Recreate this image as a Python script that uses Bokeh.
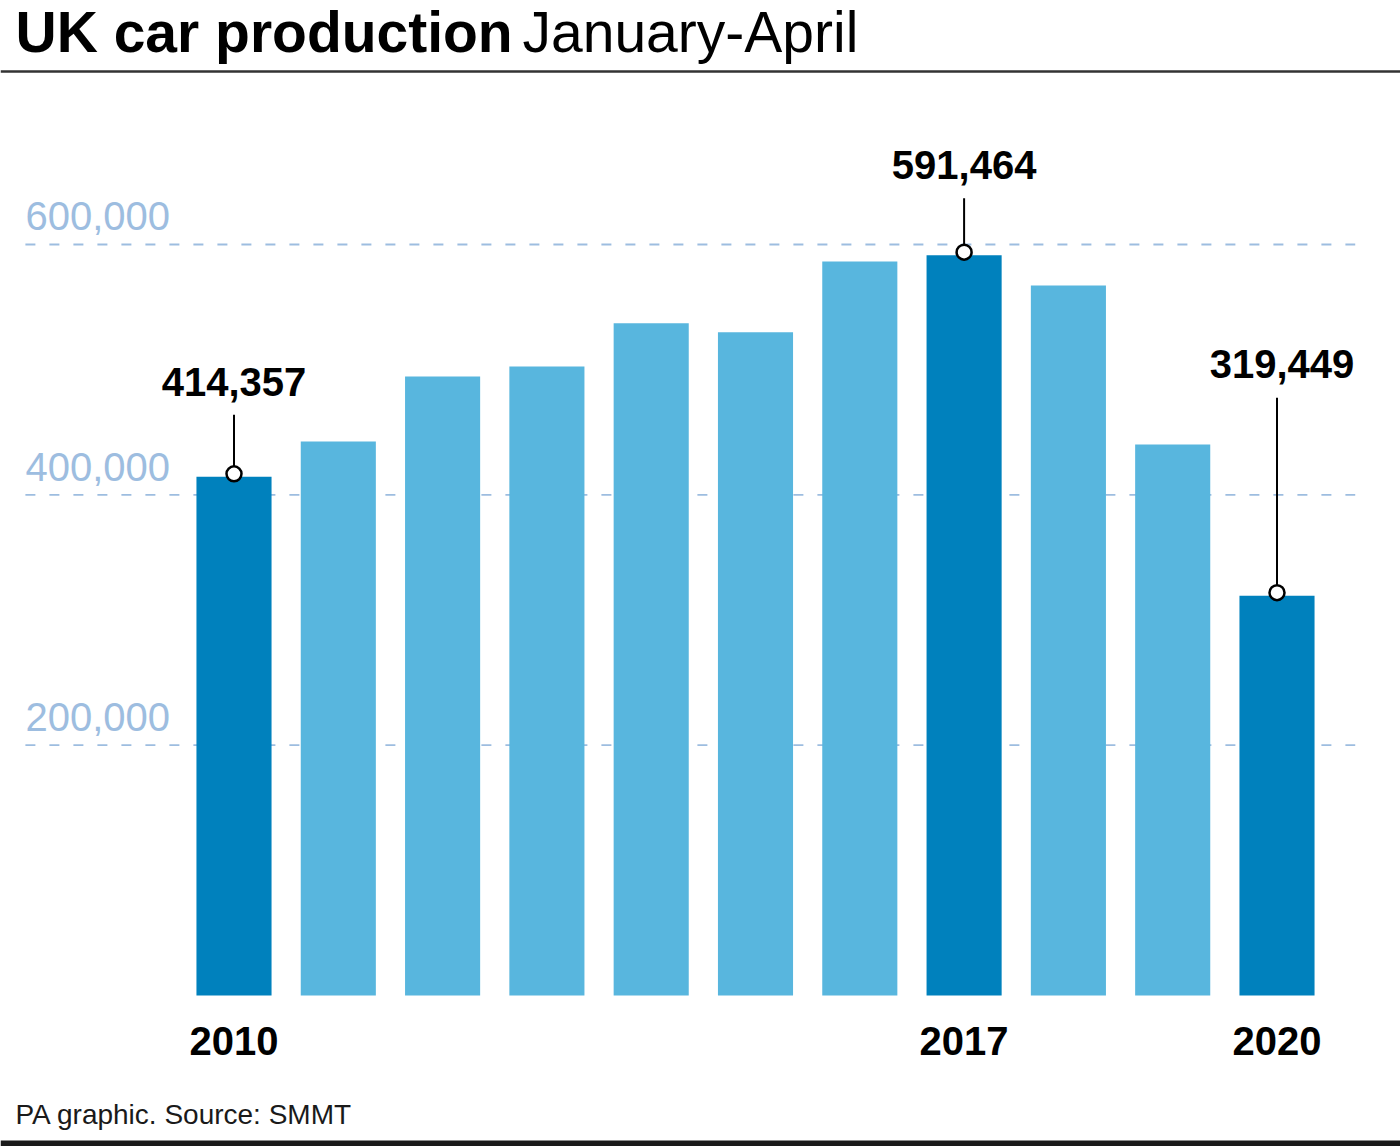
from bokeh.plotting import figure
from bokeh.models import Range1d, ColumnDataSource
from bokeh.core.properties import value
from bokeh.embed import file_html
from bokeh.resources import INLINE

# ---------------- data ----------------
years = [2010, 2011, 2012, 2013, 2014, 2015, 2016, 2017, 2018, 2019, 2020]
production = [414357, 442700, 494600, 502600, 537000, 529800, 586500, 591464, 567300, 440300, 319449]
highlight_years = [2010, 2017, 2020]
tick_values = [200000, 400000, 600000]

title_bold = "UK car production"
title_regular = "January-April"
footer_text = "PA graphic. Source: SMMT"

# ---------------- layout ----------------
W, H = 1400, 1146
PPU = 751 / 600000          # pixels per unit on y
PPX = 104.3                 # pixels per year on x
ZERO_PY = 995               # pixel row of value 0 (from top)
FIRST_PX = 233.5            # pixel column of first bar centre
BASE_FIX = 0.38             # empirical baseline correction (fraction of font size)

X0 = years[0] - FIRST_PX / PPX
X1 = X0 + W / PPX
Y0 = -(H - ZERO_PY) / PPU
Y1 = Y0 + H / PPU


def px(x):
    return X0 + x / PPX


def py(y):
    return Y1 - y / PPU


FONT = value("Liberation Sans")
DARK = "#0081bd"
LIGHT = "#58b6de"
GRID = "#9dbde0"

p = figure(width=W, height=H, x_range=Range1d(X0, X1), y_range=Range1d(Y0, Y1),
           output_backend="svg", toolbar_location=None, min_border=0)
p.axis.visible = False
p.grid.visible = False
p.outline_line_color = None
p.background_fill_color = "white"
p.border_fill_color = "white"

# title
p.text(x=[px(15)], y=[py(53 - BASE_FIX * 57)], text=[title_bold], text_font=FONT, text_font_style="bold",
       text_font_size="57px", text_color="#000000", text_baseline="alphabetic", text_align="left")
p.text(x=[px(522)], y=[py(53 - BASE_FIX * 57)], text=[title_regular], text_font=FONT, text_font_style="normal",
       text_font_size="57px", text_color="#000000", text_baseline="alphabetic", text_align="left")
p.segment(x0=[X0], x1=[X1], y0=[py(71)], y1=[py(71)], line_color="#333333", line_width=2.5)

# gridlines
gx0 = years[0] - 2.0
gx1 = years[-1] + 0.75
p.segment(x0=[gx0] * len(tick_values), x1=[gx1] * len(tick_values), y0=tick_values, y1=tick_values,
          line_color=GRID, line_width=1.8, line_dash="10 14")
p.text(x=[gx0] * len(tick_values), y=tick_values, text=[f"{v:,}" for v in tick_values],
       y_offset=-13 - BASE_FIX * 40, text_font=FONT, text_font_size="40px", text_color=GRID,
       text_baseline="alphabetic", text_align="left")

# bars
colors = [DARK if y in highlight_years else LIGHT for y in years]
src = ColumnDataSource(dict(x=years, top=production, color=colors))
p.vbar(x="x", top="top", bottom=0, width=0.72, fill_color="color", line_color=None, source=src)

# year labels
p.text(x=highlight_years, y=[0] * len(highlight_years), text=[str(y) for y in highlight_years],
       y_offset=61 - BASE_FIX * 40, text_font=FONT, text_font_style="bold", text_font_size="40px",
       text_color="#000000", text_baseline="alphabetic", text_align="center")

# value annotations
label_lift = {2010: 80, 2017: 75, 2020: 216}     # px above bar top
label_shift = {2010: 0, 2017: 0, 2020: 5}        # px horizontal shift
hv = [production[years.index(y)] for y in highlight_years]
p.segment(x0=highlight_years, x1=highlight_years,
          y0=[v + 3 / PPU for v in hv],
          y1=[v + (label_lift[y] - 18) / PPU for y, v in zip(highlight_years, hv)],
          line_color="#000000", line_width=2)
p.scatter(x=highlight_years, y=[v + 3 / PPU for v in hv], size=15, fill_color="white",
          line_color="#000000", line_width=2.5)
p.text(x=[y + label_shift[y] / PPX for y in highlight_years],
       y=[v + label_lift[y] / PPU for y, v in zip(highlight_years, hv)],
       y_offset=-BASE_FIX * 40,
       text=[f"{v:,}" for v in hv], text_font=FONT, text_font_style="bold", text_font_size="40px",
       text_color="#000000", text_baseline="alphabetic", text_align="center")

# footer
p.text(x=[px(15)], y=[py(1125 - BASE_FIX * 28)], text=[footer_text], text_font=FONT, text_font_size="28px",
       text_color="#1a1a1a", text_baseline="alphabetic", text_align="left")
p.segment(x0=[X0], x1=[X1], y0=[py(1143)], y1=[py(1143)], line_color="#1a1a1a", line_width=6)

open("out.html", "w").write(file_html(p, INLINE))
